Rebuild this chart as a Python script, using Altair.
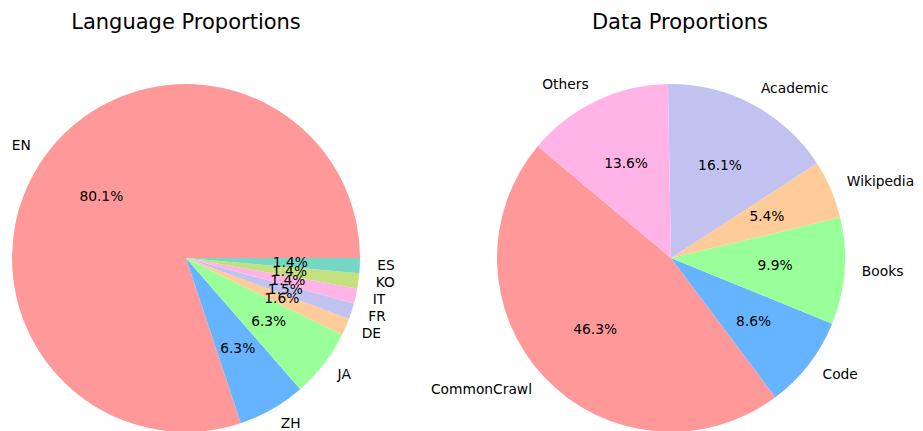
import math
import altair as alt
import pandas as pd

# ---- data ----
lang_labels = ["EN", "ZH", "JA", "DE", "FR", "IT", "KO", "ES"]
lang_pct = [80.1, 6.3, 6.3, 1.6, 1.5, 1.4, 1.4, 1.4]

data_labels = ["CommonCrawl", "Code", "Books", "Wikipedia", "Academic", "Others"]
data_pct = [46.3, 8.6, 9.9, 5.4, 16.1, 13.6]

palette = ["#ff9999", "#66b3ff", "#99ff99", "#ffcc99",
           "#c2c2f0", "#ffb3e6", "#c4e17f", "#76d7c4"]

FONT = "DejaVu Sans"
R = 174
H = 370
LBL = 13.8


def pie(labels, pct, start_deg, title, width, title_dx):
    df = pd.DataFrame({"label": labels, "pct": pct, "idx": list(range(len(labels)))})
    start = math.radians(90 - start_deg)
    tscale = alt.Scale(domain=[0, sum(pct)], range=[start, start + 2 * math.pi],
                       nice=False, zero=True)
    color = alt.Color("label:N", legend=None,
                      scale=alt.Scale(domain=labels, range=palette[:len(labels)]))

    base = (
        alt.Chart(df)
        .transform_joinaggregate(total="sum(pct)")
        .transform_stack(stack="pct", groupby=[], as_=["t0", "t1"],
                         sort=[alt.SortField("idx", order="descending")])
        .transform_calculate(
            mid="(datum.t0 + datum.t1) / 2",
            sx=f"sin({start} + 2 * PI * ((datum.t0 + datum.t1) / 2) / datum.total)",
            pctlabel="format(datum.pct, '.1f') + '%'",
        )
    )

    arcs = base.mark_arc(outerRadius=R).encode(
        theta=alt.Theta("t0:Q", scale=tscale),
        theta2="t1:Q",
        color=color,
    )
    pct_text = base.mark_text(radius=R * 0.6, font=FONT, fontSize=LBL,
                              align="center", baseline="middle", color="black").encode(
        theta=alt.Theta("mid:Q", stack=False, scale=tscale),
        text="pctlabel:N",
    )
    lab_left = base.transform_filter("datum.sx >= 0").mark_text(
        radius=R * 1.1, font=FONT, fontSize=LBL, align="left",
        baseline="middle", color="black").encode(
        theta=alt.Theta("mid:Q", stack=False, scale=tscale), text="label:N")
    lab_right = base.transform_filter("datum.sx < 0").mark_text(
        radius=R * 1.1, font=FONT, fontSize=LBL, align="right",
        baseline="middle", color="black").encode(
        theta=alt.Theta("mid:Q", stack=False, scale=tscale), text="label:N")

    return alt.layer(arcs, pct_text, lab_left, lab_right).properties(
        width=width, height=H,
        title=alt.TitleParams(title, font=FONT, fontSize=21, fontWeight="normal",
                              anchor="middle", frame="group", baseline="alphabetic",
                              offset=23, dx=title_dx, color="black"),
    )


left = pie(lang_labels, lang_pct, 0, "Language Proportions", 356, 0)
right = pie(data_labels, data_pct, 140, "Data Proportions", 355, 9)

chart = (
    alt.hconcat(left, right, spacing=129.5, bounds="flush")
    .resolve_scale(color="independent", theta="independent")
    .properties(padding={"left": 0, "top": 4, "right": 0, "bottom": 0})
    .configure_view(stroke=None)
)

chart.save("out.html", embed_options={"renderer": "svg", "actions": False})
